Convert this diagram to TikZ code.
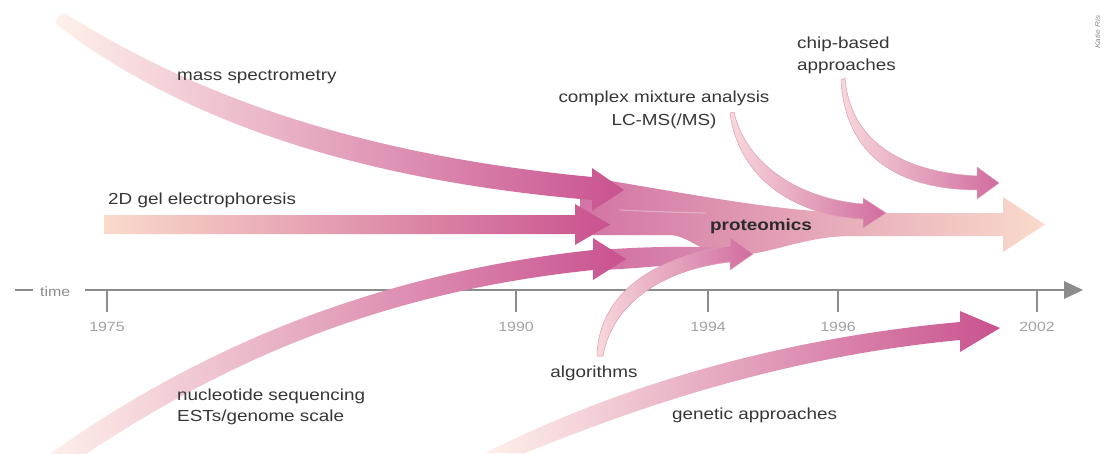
\documentclass[tikz,border=0pt]{standalone}
\usepackage{fontspec}
\setmainfont{Liberation Sans}[FakeStretch=1.18]
\definecolor{txt}{HTML}{363636}
\definecolor{axisgray}{HTML}{8C8C8C}
\definecolor{yeargray}{HTML}{A2A2A2}
\definecolor{palepeach}{HTML}{FEF1EA}
\definecolor{peach}{HTML}{FADACB}
\definecolor{rose}{HTML}{E6A4B9}
\definecolor{lightrose}{HTML}{F7D8DA}
\definecolor{midrose}{HTML}{EEB8C6}
\definecolor{mgt}{HTML}{C9528F}
\definecolor{blobL}{HTML}{D274A4}
\definecolor{blobM}{HTML}{E4A5B9}
\definecolor{blobR}{HTML}{F9DACB}
\definecolor{thinedge}{HTML}{DF9DB3}
\begin{document}
\begin{tikzpicture}[x=1pt,y=-1pt,
  lbl/.style={inner sep=0pt, font=\fontsize{16}{19}\selectfont, text=txt},
  yr/.style={inner sep=0pt, font=\fontsize{13.5}{16}\selectfont, text=yeargray},
  axisline/.style={draw=axisgray, line width=2pt},
  wideflow/.style={left color=palepeach, middle color=rose, right color=mgt},
  thinflow/.style={left color=lightrose, middle color=midrose, right color=mgt!85!white, draw=thinedge, line width=0.5pt},
  seam/.style={draw=white, opacity=0.3, line width=1.2pt, line cap=round}]
\useasboundingbox (0,0) rectangle (1109,453);
\clip (0,0) rectangle (1109,453);

% time axis with year ticks
\coordinate (dash0) at (15,290);
\coordinate (dash1) at (33,290);
\draw[axisline] (dash0) -- (dash1);
\node[yr, text=axisgray, anchor=base west] (timelbl) at (40,296) {time};
\coordinate (ax0) at (85,290);
\coordinate (ax1) at (1066,290);
\draw[axisline] (ax0) -- (ax1);
\fill[axisgray] (1064,281) -- (1083,290) -- (1064,299) -- cycle;
\foreach \x/\y in {107/1975, 516/1990, 708/1994, 838/1996, 1037/2002}{
  \draw[axisline] (\x,290) -- (\x,312);
  \node[yr, anchor=base] (yr\y) at (\x,331) {\y};
}

% merged proteomics stream
\shade[left color=blobL, middle color=blobM, right color=blobR]
  (580,176) .. controls (670,190) and (770,211) .. (850,213) -- (1003,213)
  -- (1003,197) -- (1045,224.5) -- (1003,252) -- (1003,236) -- (850,236)
  .. controls (800,237) and (775,254) .. (730,256)
  .. controls (705,256) and (690,236) .. (670,235) -- (580,235) -- cycle;
% faint seam where the mass spectrometry band meets the gel band
\coordinate (seam0) at (620,210);
\coordinate (seam1) at (705,213);
\draw[seam] (seam0) .. controls (650,211.5) and (680,212.5) .. (seam1);

% 2D gel electrophoresis
\shade[left color=peach, middle color=rose, right color=mgt]
  (104,215) -- (575,215) -- (575,204) -- (610,224.5) -- (575,245) -- (575,234)
  -- (104,234) -- cycle;

% mass spectrometry
\shade[wideflow]
  (66,14) .. controls (175,82) and (330,152) .. (592,177) -- (592,168)
  -- (624,190) -- (592,211) -- (592,200)
  .. controls (330,178) and (165,108) .. (56,24)
  .. controls (55,18) and (60,12) .. (66,14) -- cycle;

% nucleotide sequencing, continuing into the stream
\shade[left color=blobL!90!mgt, right color=blobL!80!white]
  (600,250) .. controls (650,246) and (700,246) .. (745,249) -- (745,257)
  .. controls (700,262) and (650,268) .. (600,270) -- cycle;
\shade[wideflow]
  (44,458) .. controls (175,364) and (350,276) .. (593,250) -- (593,238)
  -- (626,259) -- (593,280) -- (593,270)
  .. controls (360,294) and (200,376) .. (68,466) -- cycle;

% algorithms
\shadedraw[thinflow]
  (597,356) .. controls (598,300) and (645,258) .. (730,246) -- (730,237)
  -- (753,254) -- (730,270) -- (730,262)
  .. controls (660,270) and (612,305) .. (603,356) -- cycle;

% complex mixture analysis
\shadedraw[thinflow]
  (734,112) .. controls (746,165) and (800,199) .. (863,204) -- (863,198)
  -- (886,213) -- (863,228) -- (863,219)
  .. controls (790,215) and (738,175) .. (730,113) -- cycle;

% chip-based approaches
\shadedraw[thinflow]
  (845,78) .. controls (850,140) and (900,172) .. (977,176) -- (977,167)
  -- (999,183) -- (977,199) -- (977,190)
  .. controls (890,189) and (845,150) .. (841,80) -- cycle;

% genetic approaches
\shade[wideflow]
  (485,453) .. controls (600,395) and (760,340) .. (960,322) -- (960,311)
  -- (1000,328) -- (960,352) -- (960,340)
  .. controls (770,358) and (620,415) .. (525,453) -- cycle;

% labels
\node[lbl, anchor=base west] (ms) at (177,80) {mass spectrometry};
\node[lbl, anchor=base west] (gel) at (108,204) {2D gel electrophoresis};
\node[lbl, anchor=base] (cma) at (664,102) {complex mixture analysis};
\node[lbl, anchor=base] (lcms) at (664,125) {LC-MS(/MS)};
\node[lbl, anchor=base west] (chip1) at (797,48) {chip-based};
\node[lbl, anchor=base west] (chip2) at (797,70) {approaches};
\node[lbl, anchor=base west, font=\fontsize{16}{19}\selectfont\bfseries, text=txt!80!black] (prot) at (710,230) {proteomics};
\node[lbl, anchor=base] (alg) at (594,377) {algorithms};
\node[lbl, anchor=base west] (nuc1) at (177,400) {nucleotide sequencing};
\node[lbl, anchor=base west] (nuc2) at (177,421) {ESTs/genome scale};
\node[lbl, anchor=base west] (gen) at (672,419) {genetic approaches};
\node[inner sep=0pt, rotate=90, anchor=base, font=\fontsize{7}{8}\selectfont\itshape, text=axisgray] (credit) at (1100,32) {Katie Ris};
\end{tikzpicture}
\end{document}
